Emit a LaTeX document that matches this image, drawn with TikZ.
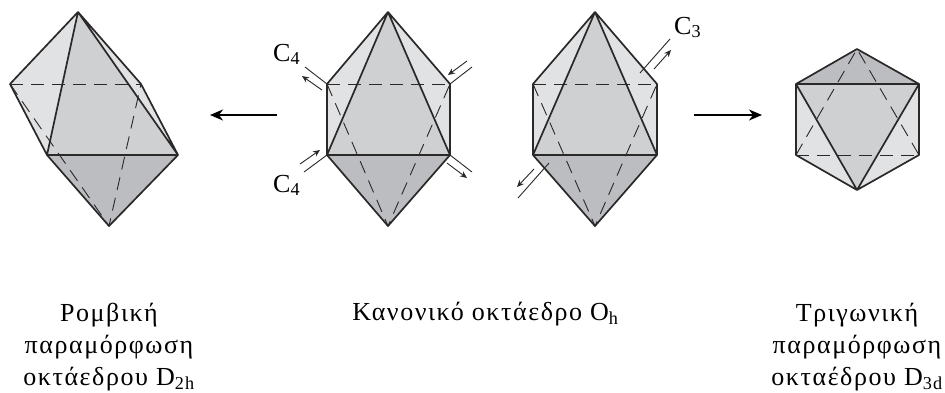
\documentclass[tikz,border=0pt]{standalone}
\usepackage{fontspec}
\setmainfont{Liberation Serif}
\newfontfamily\capfont[LetterSpace=6]{Liberation Serif}
\usetikzlibrary{arrows.meta}
\definecolor{facelight}{HTML}{E1E2E4}
\definecolor{facemid}{HTML}{CFD0D2}
\definecolor{facedark}{HTML}{BCBDC0}
\definecolor{edgecol}{HTML}{2A2829}
\newcommand{\octa}[6]{%
\coordinate (top) at (#1);
\coordinate (ul) at (#2);
\coordinate (ur) at (#3);
\coordinate (ll) at (#4);
\coordinate (lr) at (#5);
\coordinate (bot) at (#6);
\fill[facelight] (top) -- (ul) -- (ll) -- (lr) -- (ur) -- cycle;
\fill[facemid] (top) -- (ll) -- (lr) -- cycle;
\fill[facedark] (ll) -- (lr) -- (bot) -- cycle;
\draw[hidden] (ul) -- (ur);
\draw[hidden] (ul) -- (bot) -- (ur);
\draw[edge] (top) -- (ul) -- (ll) -- (bot) -- (lr) -- (ur) -- (top) -- (lr) -- (ll) -- (top);
}
\tikzset{
  edge/.style={draw=edgecol,line width=1.7pt,line join=round},
  hidden/.style={draw=edgecol,line width=0.9pt,dash pattern=on 13pt off 8pt},
  axis/.style={draw=edgecol,line width=0.9pt},
  axisarrow/.style={draw=edgecol,line width=0.9pt,-{Stealth[length=7pt,width=6pt]}},
  bigarrow/.style={draw=black,line width=1.5pt,-{Stealth[length=13pt,width=11pt,inset=4pt]}},
  caption/.style={align=center,font=\capfont\fontsize{26}{32}\selectfont,inner sep=0pt},
  axislabel/.style={font=\fontsize{26}{26}\selectfont,inner sep=0pt,anchor=base west},
}
\begin{document}
\begin{tikzpicture}[x=1pt,y=-1pt]
\useasboundingbox (0,0) rectangle (945,392);

% rhombic
\octa{78,12}{10,84}{141,84}{47,155}{178,155}{109,226}

% regular, C4 axes
\octa{388,12}{327,84}{450,84}{327,155}{450,155}{388,226}
\draw[axis] (ul) -- (305,67);
\draw[axis] (ur) -- (472,67);
\draw[axis] (ll) -- (304,172);
\draw[axis] (lr) -- (472,172);
\coordinate (a1) at (322,90); \coordinate (a2) at (302,76);
\draw[axisarrow] (a1) -- (a2);
\coordinate (a3) at (467,61); \coordinate (a4) at (448,75);
\draw[axisarrow] (a3) -- (a4);
\coordinate (a5) at (300,164); \coordinate (a6) at (320,150);
\draw[axisarrow] (a5) -- (a6);
\coordinate (a7) at (447,163); \coordinate (a8) at (467,178);
\draw[axisarrow] (a7) -- (a8);
\node[axislabel] (c4a) at (273,61) {C\textsubscript{4}};
\node[axislabel] (c4b) at (273,192) {C\textsubscript{4}};

% regular, C3 axis
\octa{595,12}{533,84}{657,84}{533,155}{657,155}{595,226}
\coordinate (b1) at (640,73); \coordinate (b2) at (670,39);
\draw[axis] (b1) -- (b2);
\coordinate (b3) at (549,163); \coordinate (b4) at (518,198);
\draw[axis] (b3) -- (b4);
\coordinate (b5) at (654,69); \coordinate (b6) at (671,50);
\draw[axisarrow] (b5) -- (b6);
\coordinate (b7) at (534,169); \coordinate (b8) at (517,187);
\draw[axisarrow] (b7) -- (b8);
\node[axislabel] (c3) at (674,34) {C\textsubscript{3}};

% trigonal
\octa{857,190}{796,155}{919,155}{796,84}{919,84}{857,49}

% big arrows
\coordinate (l1) at (277,115); \coordinate (l2) at (210,115);
\draw[bigarrow] (l1) -- (l2);
\coordinate (r1) at (694,115); \coordinate (r2) at (762,115);
\draw[bigarrow] (r1) -- (r2);

\node[caption] (caprh) at (109,347) {Ρομβική\\παραμόρφωση\\οκτάεδρου D\textsubscript{2h}};
\node[caption] (capoh) at (485.5,314) {Κανονικό οκτάεδρο O\textsubscript{h}};
\node[caption] (captr) at (857,347) {Τριγωνική\\παραμόρφωση\\οκταέδρου D\textsubscript{3d}};
\end{tikzpicture}
\end{document}
